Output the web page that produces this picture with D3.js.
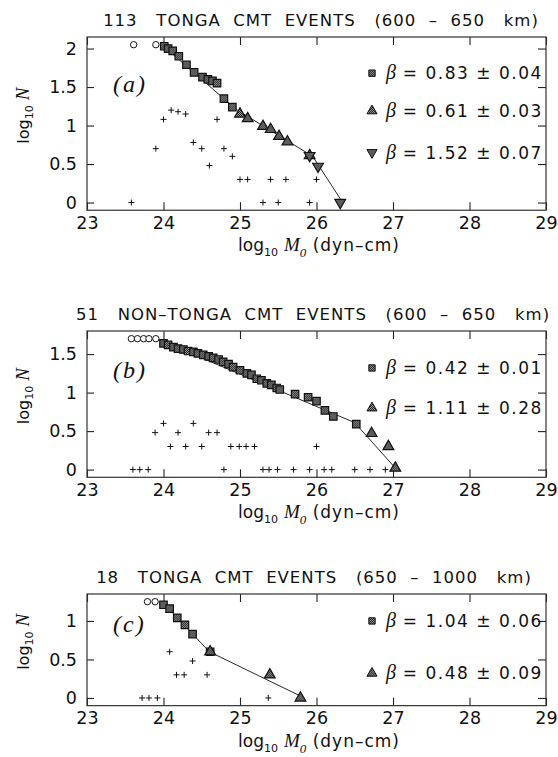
<!DOCTYPE html>
<html><head><meta charset="utf-8">
<script src="https://cdn.jsdelivr.net/npm/d3@7"></script>
<style>
html,body{margin:0;padding:0;background:#fff;}
svg{display:block;}
text{font-family:"DejaVu Sans",sans-serif;fill:#111;}
</style></head><body>
<svg id="chart" width="558" height="757"></svg>
<script>
// ---------------- DATA ----------------
const xTicks = [23, 24, 25, 26, 27, 28, 29];

// Panel (a): 113 Tonga CMT events (600-650 km)
const aTitle = ["113", "TONGA CMT EVENTS", "(600 – 650", "km)"];
const aYTicks = [0, 0.5, 1, 1.5, 2];
const aCircles = [[23.61, 2.05], [23.90, 2.05]];
const aSquares = [[24.01, 2.03], [24.06, 2.00], [24.12, 1.97], [24.20, 1.90], [24.30, 1.79], [24.40, 1.69],
                  [24.51, 1.63], [24.58, 1.60], [24.64, 1.58], [24.70, 1.55], [24.79, 1.35], [24.90, 1.24]];
const aTriangles = [[25.00, 1.15], [25.10, 1.09], [25.30, 0.99], [25.40, 0.95], [25.51, 0.86], [25.62, 0.79], [25.91, 0.61]];
const aInverted = [[25.91, 0.61], [26.02, 0.47], [26.31, 0.00]];
const aCrosses = [[23.58, 0], [23.90, 0.70], [24.00, 1.08], [24.10, 1.20], [24.19, 1.18], [24.29, 1.15], [24.39, 0.78],
                  [24.50, 0.70], [24.60, 0.48], [24.70, 1.08], [24.79, 0.70], [24.90, 0.60], [25.00, 0.30], [25.10, 0.30],
                  [25.30, 0], [25.40, 0.30], [25.50, 0], [25.60, 0.30], [25.91, 0], [26.00, 0.30]];
const aFit = [[24.00, 2.03], [24.95, 1.21], [25.95, 0.60], [26.33, 0.02]];
const aLegend = [["square", "0.83", "0.04"], ["triangle", "0.61", "0.03"], ["inverted", "1.52", "0.07"]];

// Panel (b): 51 non-Tonga CMT events (600-650 km)
const bTitle = ["51", "NON–TONGA CMT EVENTS", "(600 – 650", "km)"];
const bYTicks = [0, 0.5, 1, 1.5];
const bCircles = [[23.58, 1.70], [23.66, 1.70], [23.74, 1.70], [23.81, 1.70], [23.90, 1.70]];
const bSquares = [[24.00, 1.64], [24.06, 1.62], [24.13, 1.59], [24.19, 1.57], [24.26, 1.56], [24.32, 1.54], [24.39, 1.53],
                  [24.45, 1.51], [24.52, 1.49], [24.59, 1.47], [24.65, 1.45], [24.72, 1.43], [24.78, 1.40], [24.85, 1.37],
                  [24.91, 1.33], [25.00, 1.29], [25.09, 1.25], [25.15, 1.23], [25.22, 1.18], [25.28, 1.16], [25.35, 1.12],
                  [25.41, 1.10], [25.48, 1.06], [25.52, 1.04], [25.72, 0.98], [25.89, 0.94], [26.00, 0.89], [26.11, 0.77],
                  [26.22, 0.69], [26.52, 0.59]];
const bTriangles = [[26.72, 0.47], [26.94, 0.30], [27.03, 0.02]];
const bCrosses = [[23.60, 0], [23.69, 0], [23.80, 0], [24.79, 0], [25.30, 0], [25.38, 0], [25.49, 0], [25.70, 0],
                  [25.91, 0], [26.10, 0], [26.20, 0], [26.50, 0], [26.70, 0], [26.90, 0],
                  [24.09, 0.30], [24.29, 0.30], [24.50, 0.30], [24.88, 0.30], [24.99, 0.30], [25.08, 0.30], [25.19, 0.30], [26.00, 0.30],
                  [23.89, 0.48], [24.19, 0.48], [24.59, 0.48], [24.70, 0.48], [24.00, 0.60], [24.39, 0.60]];
const bFit = [[24.00, 1.66], [26.50, 0.61], [27.03, 0.02]];
const bLegend = [["square", "0.42", "0.01"], ["triangle", "1.11", "0.28"]];

// Panel (c): 18 Tonga CMT events (650-1000 km)
const cTitle = ["18", "TONGA CMT EVENTS", "(650 – 1000", "km)"];
const cYTicks = [0, 0.5, 1];
const cCircles = [[23.79, 1.25], [23.89, 1.25]];
const cSquares = [[24.00, 1.21], [24.08, 1.16], [24.18, 1.04], [24.28, 0.95], [24.38, 0.83], [24.61, 0.60]];
const cTriangles = [[24.61, 0.60], [25.39, 0.30], [25.79, 0.00]];
const cCrosses = [[24.08, 0.60], [24.38, 0.48], [24.17, 0.30], [24.27, 0.30], [24.57, 0.30],
                  [23.72, 0], [23.81, 0], [23.92, 0], [25.37, 0]];
const cFit = [[24.00, 1.23], [24.60, 0.60], [25.80, 0.02]];
const cLegend = [["square", "1.04", "0.06"], ["triangle", "0.48", "0.09"]];

// ---------------- LAYOUT ----------------
const pxPerUnit = 77;
const yMin = -0.1;
const panels = [
  {label: "a", title: aTitle, top: 37, yMax: 2.15, yTicks: aYTicks, circles: aCircles, squares: aSquares,
   triangles: aTriangles, inverted: aInverted, crosses: aCrosses, fit: aFit, legend: aLegend,
   legendY: [1.68, 1.19, 0.65], labelY: 1.43, titleX: 321},
  {label: "b", title: bTitle, top: 331, yMax: 1.8, yTicks: bYTicks, circles: bCircles, squares: bSquares,
   triangles: bTriangles, inverted: [], crosses: bCrosses, fit: bFit, legend: bLegend,
   legendY: [1.32, 0.80], labelY: 1.19, titleX: 313},
  {label: "c", title: cTitle, top: 594, yMax: 1.35, yTicks: cYTicks, circles: cCircles, squares: cSquares,
   triangles: cTriangles, inverted: [], crosses: cCrosses, fit: cFit, legend: cLegend,
   legendY: [1.0, 0.32], labelY: 0.86, titleX: 314}
];

const svg = d3.select("#chart");
const defs = svg.append("defs");
const pat = defs.append("pattern").attr("id", "hatch").attr("patternUnits", "userSpaceOnUse")
  .attr("width", 2).attr("height", 2);
pat.append("rect").attr("width", 2).attr("height", 2).attr("fill", "#9a9a9a");
pat.append("rect").attr("width", 1).attr("height", 1).attr("fill", "#1e1e1e");
pat.append("rect").attr("x", 1).attr("y", 1).attr("width", 1).attr("height", 1).attr("fill", "#1e1e1e");

const x = d3.scaleLinear().domain([23, 29]).range([87, 546]);
const fmt = d => (d === 0 ? "0" : d3.format("")(d));

const symSquare = d3.symbol().type(d3.symbolSquare).size(56);
const symTri = d3.symbol().type(d3.symbolTriangle).size(50);

panels.forEach(p => {
  const bottom = p.top + (p.yMax - yMin) * pxPerUnit;
  const y = d3.scaleLinear().domain([yMin, p.yMax]).range([bottom, p.top]);
  const g = svg.append("g");

  // title
  const t = g.append("text").attr("x", p.titleX).attr("y", p.top - 11)
    .attr("text-anchor", "middle").style("font-size", "16.5px").style("letter-spacing", "1px")
    .style("white-space", "pre");
  t.text(p.title[0] + "   " + p.title[1].replace(/ /g, "  ") + "   " + p.title[2].replace(/ /g, "  ") + "   " + p.title[3]);

  // axes (inward ticks on all sides)
  const tick = 8;
  const ax = g.append("g").attr("transform", `translate(0,${bottom})`)
    .call(d3.axisBottom(x).tickValues(xTicks).tickSize(-tick).tickPadding(6).tickFormat(d3.format("d")));
  const axT = g.append("g").attr("transform", `translate(0,${p.top})`)
    .call(d3.axisTop(x).tickValues(xTicks).tickSize(-tick).tickFormat(""));
  const ayL = g.append("g").attr("transform", `translate(${x.range()[0]},0)`)
    .call(d3.axisLeft(y).tickValues(p.yTicks).tickSize(-7).tickPadding(10).tickFormat(fmt));
  const ayR = g.append("g").attr("transform", `translate(${x.range()[1]},0)`)
    .call(d3.axisRight(y).tickValues(p.yTicks).tickSize(-8).tickFormat(""));
  [ax, axT, ayL, ayR].forEach(a => {
    a.select(".domain").remove();
    a.selectAll(".tick line").attr("stroke", "#222").attr("stroke-width", 1.1);
    a.selectAll("text").style("font-family", '"DejaVu Sans",sans-serif').style("font-size", "17.5px")
      .attr("fill", "#111");
  });

  // frame
  g.append("rect").attr("x", x.range()[0]).attr("y", p.top)
    .attr("width", x.range()[1] - x.range()[0]).attr("height", bottom - p.top)
    .attr("fill", "none").attr("stroke", "#333").attr("stroke-width", 1.2);

  // fit line
  g.append("path").datum(p.fit)
    .attr("d", d3.line().x(d => x(d[0])).y(d => y(d[1])))
    .attr("fill", "none").attr("stroke", "#111").attr("stroke-width", 0.9);

  // crosses
  g.append("g").selectAll("path").data(p.crosses).join("path")
    .attr("d", d => `M${x(d[0]) - 3},${y(d[1])}h6M${x(d[0])},${y(d[1]) - 3}v6`)
    .attr("stroke", "#111").attr("stroke-width", 1);

  // open circles
  g.append("g").selectAll("circle").data(p.circles).join("circle")
    .attr("cx", d => x(d[0])).attr("cy", d => y(d[1])).attr("r", 3.2)
    .attr("fill", "#fff").attr("stroke", "#111").attr("stroke-width", 1);

  // squares
  g.append("g").selectAll("path").data(p.squares).join("path")
    .attr("transform", d => `translate(${x(d[0])},${y(d[1])})`).attr("d", symSquare)
    .attr("fill", "url(#hatch)").attr("stroke", "#111").attr("stroke-width", 1.2);

  // triangles
  g.append("g").selectAll("path").data(p.triangles).join("path")
    .attr("transform", d => `translate(${x(d[0])},${y(d[1])})`).attr("d", symTri)
    .attr("fill", "url(#hatch)").attr("stroke", "#111").attr("stroke-width", 1.2);

  // inverted triangles
  g.append("g").selectAll("path").data(p.inverted).join("path")
    .attr("transform", d => `translate(${x(d[0])},${y(d[1])}) rotate(180)`).attr("d", symTri)
    .attr("fill", "url(#hatch)").attr("stroke", "#111").attr("stroke-width", 1.2);

  // panel label (a)/(b)/(c)
  g.append("text").attr("x", x(23.34)).attr("y", y(p.labelY))
    .style("font-family", '"Liberation Serif",serif').style("font-style", "italic")
    .style("font-size", "24px").style("letter-spacing", "2px")
    .text(`(${p.label})`);

  // legend
  p.legend.forEach((L, i) => {
    const ly = y(p.legendY[i]);
    const sx = 372;
    if (L[0] === "square") {
      g.append("path").attr("transform", `translate(${sx},${ly})`)
        .attr("d", d3.symbol().type(d3.symbolSquare).size(40))
        .attr("fill", "url(#hatch)").attr("stroke", "#111");
    } else {
      g.append("path").attr("transform", `translate(${sx},${ly})` + (L[0] === "inverted" ? " rotate(180)" : ""))
        .attr("d", d3.symbol().type(d3.symbolTriangle).size(44))
        .attr("fill", "url(#hatch)").attr("stroke", "#111");
    }
    const lt = g.append("text").attr("x", 386).attr("y", ly + 6).style("white-space", "pre");
    lt.append("tspan").style("font-family", '"Liberation Serif",serif').style("font-style", "italic")
      .style("font-size", "20px").text("β");
    lt.append("tspan").style("font-size", "17px").style("letter-spacing", "1.5px")
      .text(` = ${L[1]} ± ${L[2]}`);
  });

  // y-axis label: log10 N
  const cy = (p.top + bottom) / 2 - 8;
  const yl = g.append("text").attr("transform", `translate(29,${cy}) rotate(-90)`)
    .attr("text-anchor", "middle").style("font-size", "16px");
  yl.append("tspan").text("log");
  yl.append("tspan").attr("dy", 4).style("font-size", "11px").text("10");
  yl.append("tspan").attr("dy", -4).attr("dx", 5).style("font-family", '"Liberation Serif",serif')
    .style("font-style", "italic").style("font-size", "19px").text("N");

  // x-axis label: log10 M0 (dyn-cm)
  const xl = g.append("text").attr("x", 319).attr("y", bottom + 41).attr("text-anchor", "middle")
    .style("font-size", "17px").style("white-space", "pre");
  xl.append("tspan").text("log");
  xl.append("tspan").attr("dy", 5).style("font-size", "11px").text("10");
  xl.append("tspan").attr("dy", -5).attr("dx", 6).style("font-family", '"Liberation Serif",serif')
    .style("font-style", "italic").style("font-size", "19px").text("M");
  xl.append("tspan").attr("dy", 6).style("font-family", '"Liberation Serif",serif')
    .style("font-style", "italic").style("font-size", "13px").text("0");
  xl.append("tspan").attr("dy", -6).style("letter-spacing", "1px").text(" (dyn–cm)");
});
</script>
</body></html>
